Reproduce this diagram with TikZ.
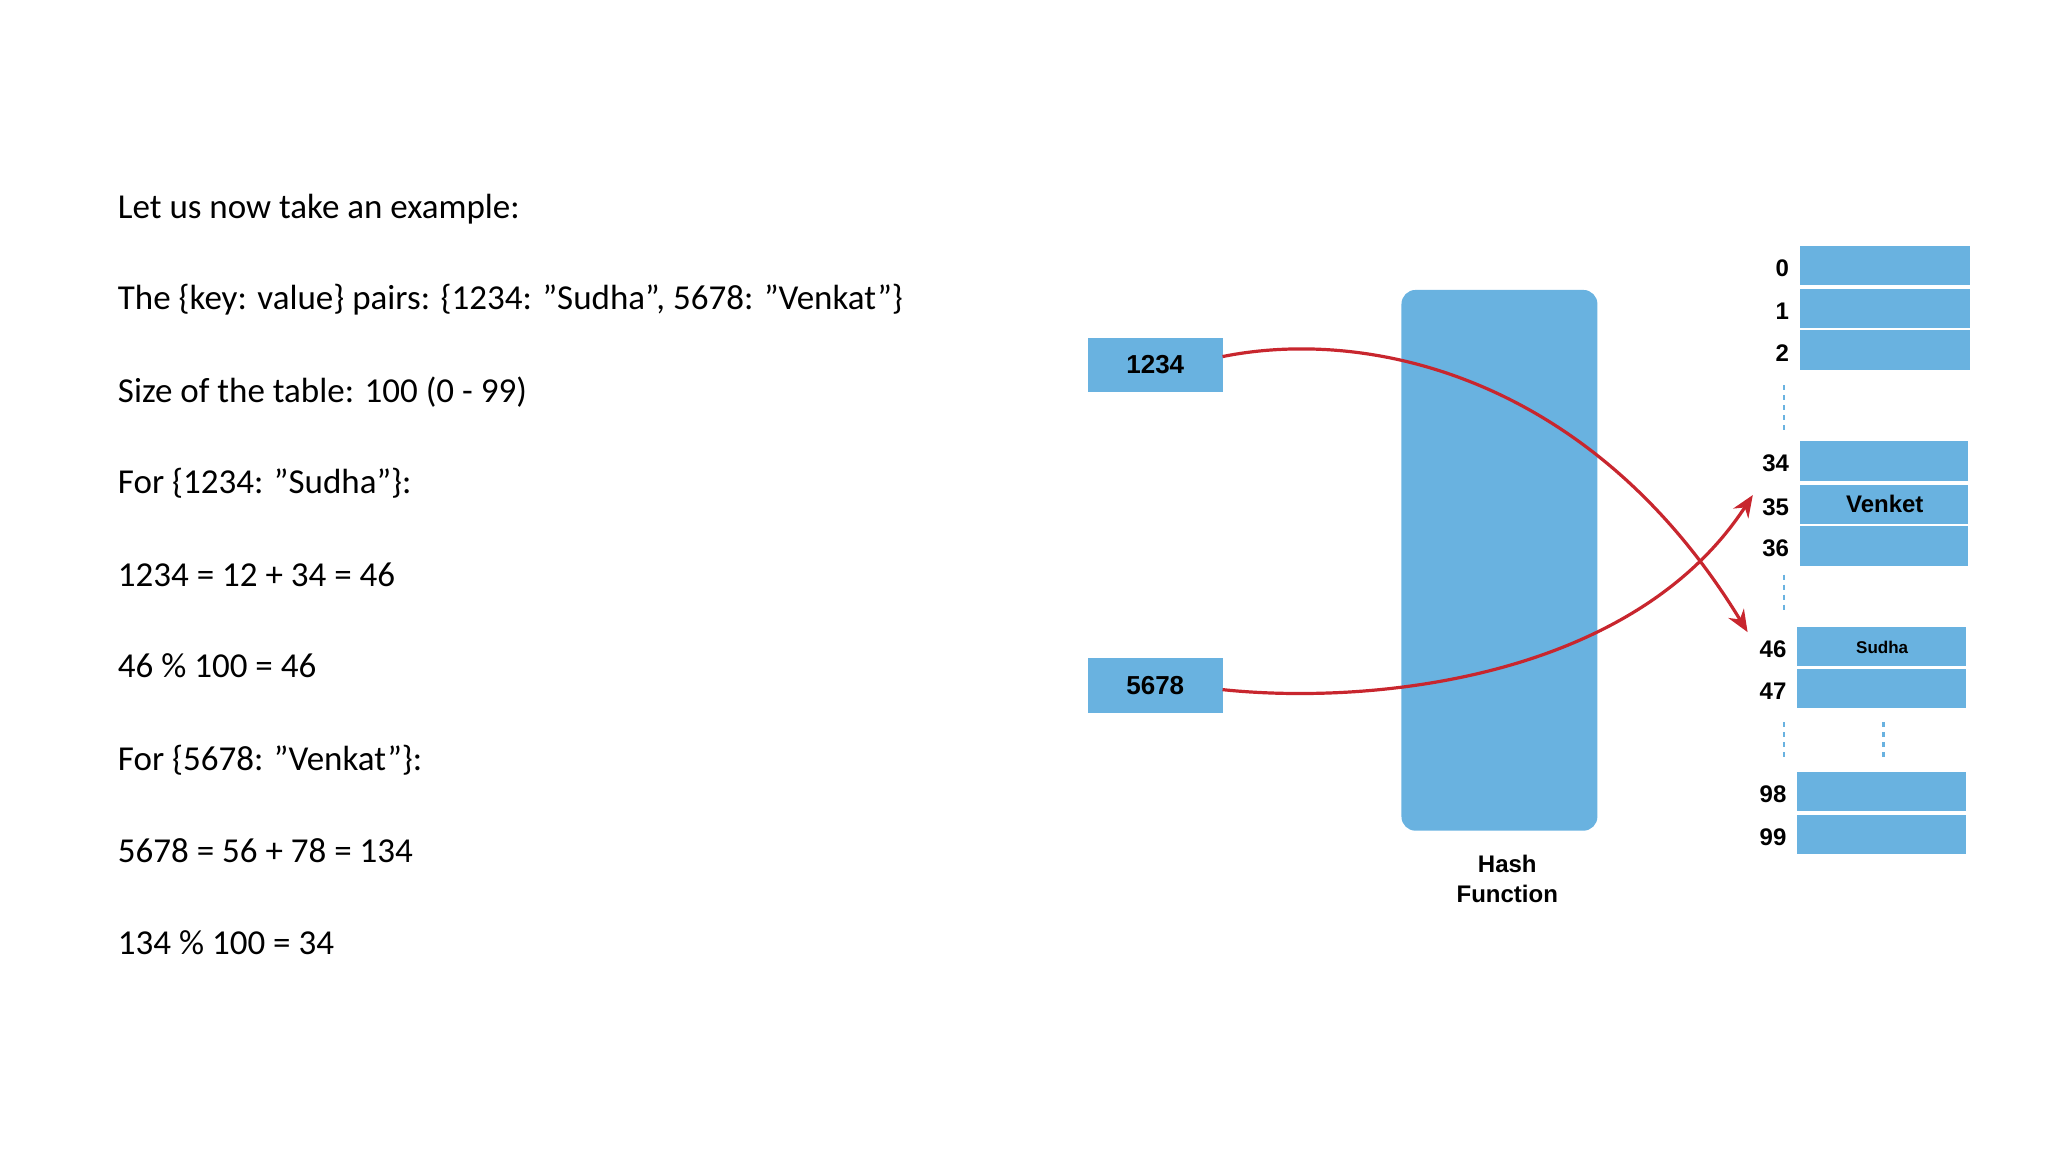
\documentclass[tikz,border=0pt]{standalone}
\usepackage{fontspec}
\setmainfont{Carlito}
\newfontfamily\dfont{Liberation Sans}
\usetikzlibrary{arrows.meta}
\definecolor{cblue}{HTML}{69B2E0}
\definecolor{cred}{HTML}{C8262E}
\begin{document}
\begin{tikzpicture}[x=0.653pt,y=-0.653pt,
  cell/.style={fill=cblue,draw=none,minimum width=0pt},
  lbl/.style={font=\dfont\bfseries\fontsize{12}{14}\selectfont,anchor=east,inner sep=0},
  txt/.style={font=\fontsize{17.5}{20}\selectfont,anchor=base west,inner sep=0},
  dots/.style={cblue,line width=1.3pt,dash pattern=on 2.5pt off 2.5pt},
  arr/.style={cred,line width=1.6pt,-{Stealth[length=11pt,width=9pt]}}]
\useasboundingbox (0,0) rectangle (1568,882);
\node[txt] (t1) at (90,167) {Let us now take an example:};
\node[txt] (t2) at (90,237) {The \{key: value\} pairs: \{1234: "Sudha", 5678: "Venkat"\}};
\node[txt] (t3) at (90,308) {Size of the table: 100 (0 - 99)};
\node[txt] (t4) at (90,378) {For \{1234: "Sudha"\}:};
\node[txt] (t5) at (90,449) {1234 = 12 + 34 = 46};
\node[txt] (t6) at (90,519) {46 \% 100 = 46};
\node[txt] (t7) at (90,590) {For \{5678: "Venkat"\}:};
\node[txt] (t8) at (90,660) {5678 = 56 + 78 = 134};
\node[txt] (t9) at (90,731) {134 \% 100 = 34};
% hash function
\fill[cblue,rounded corners=7pt] (1073,222) rectangle (1223,636);
\node[font=\dfont\bfseries\fontsize{12}{15}\selectfont,align=center] (hf) at (1154,673) {Hash\\Function};
% keys
\fill[cblue] (833,259) rectangle (936,300);
\node[font=\dfont\bfseries\fontsize{13}{15}\selectfont] (k1) at (884.5,279.5) {1234};
\fill[cblue] (833,504) rectangle (936,546);
\node[font=\dfont\bfseries\fontsize{13}{15}\selectfont] (k2) at (884.5,525) {5678};
% table
\foreach \n/\a/\b/\xa/\xb in {0/188/218/1378/1508,1/221/251/1378/1508,2/253/283/1378/1508,
  34/338/368/1378/1507,35/371/401/1378/1507,36/403/433/1378/1507,
  46/480/510/1376/1505,47/512/542/1376/1505,98/591/621/1376/1505,99/624/654/1376/1505}{
  \fill[cblue] (\xa,\a) rectangle (\xb,\b);
  \node[lbl] (l\n) at (\xa-8,{(\a+\b)/2+2}) {\n};
}
\node[font=\dfont\bfseries\fontsize{12}{14}\selectfont] (v35) at (1443,386) {Venket};
\node[font=\dfont\bfseries\fontsize{8.5}{10}\selectfont] (v46) at (1441,496) {Sudha};
\draw[dots] (1366,295) -- (1366,330);
\draw[dots] (1366,440) -- (1366,470);
\draw[dots] (1366,553) -- (1366,583);
\draw[dots] (1442,553) -- (1442,583);
% arrows
\coordinate (e1) at (1338,484);
\coordinate (e2) at (1342,379);
\draw[arr] (936,273) .. controls (1050,250) and (1220,290) .. (e1);
\draw[arr] (936,528) .. controls (1050,540) and (1250,520) .. (e2);
\end{tikzpicture}
\end{document}
